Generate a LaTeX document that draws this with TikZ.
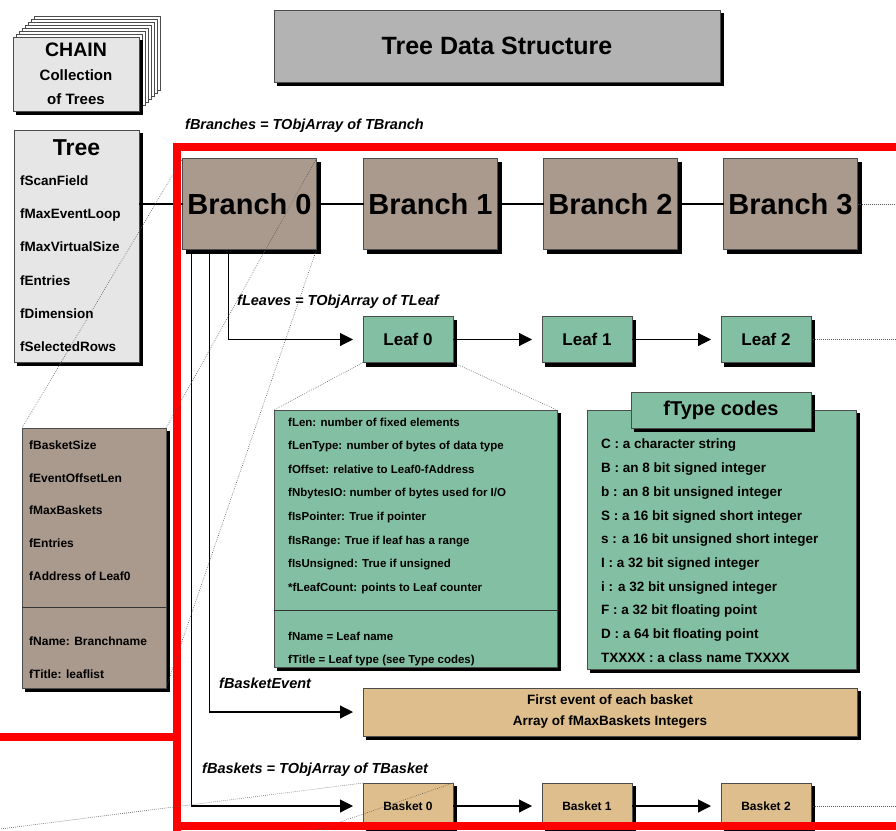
\documentclass[tikz,border=0pt]{standalone}
\usepackage{fontspec}
\setmainfont{Liberation Sans}
\usetikzlibrary{positioning,arrows.meta}

\definecolor{branchbrown}{RGB}{170,154,141}
\definecolor{leafgreen}{RGB}{131,192,163}
\definecolor{baskettan}{RGB}{222,190,140}
\definecolor{titlegray}{RGB}{179,179,179}
\definecolor{chaingray}{RGB}{230,230,230}

\tikzset{
	box/.style={draw=black!70, line width=0.7pt, inner sep=0pt, outer sep=0pt,
		preaction={draw=black, fill=black, transform canvas={xshift=3.5pt, yshift=-3.5pt}}},
	branchbox/.style={box, fill=branchbrown, minimum width=134pt, minimum height=91pt,
		font=\fontsize{29}{34}\selectfont\bfseries},
	leafbox/.style={box, fill=leafgreen, minimum width=90pt, minimum height=46pt,
		font=\fontsize{17}{20}\selectfont\bfseries},
	basketbox/.style={box, fill=baskettan, minimum width=90pt, minimum height=46pt,
		font=\fontsize{12}{14}\selectfont\bfseries},
	fieldtext/.style={inner sep=0pt, anchor=north west, align=left},
	arraylabel/.style={inner sep=0pt, anchor=base west,
		font=\fontsize{14.5}{17}\selectfont\bfseries\itshape},
	chainlayer/.style={draw=black!70, line width=0.7pt, fill=white},
	divider/.style={draw=black!80, line width=0.7pt},
	link/.style={line width=1.1pt},
	arrow/.style={link, -{Triangle[length=13pt,width=13pt]}, shorten >=10pt},
	zoomline/.style={draw=black!65, line width=0.6pt, dash pattern=on 0.7pt off 1.3pt},
	redframe/.style={draw=red, line width=8pt},
}

\begin{document}
\begin{tikzpicture}[x=1pt,y=-1pt]
	\useasboundingbox (0,0) rectangle (896,830);
	\clip (0,0) rectangle (896,830);
	\coordinate (rightedge) at (896,0);

	% chain of trees
	\foreach \i in {7,...,1}
		\draw[chainlayer] (13+3*\i,37-3*\i) rectangle (139+3*\i,111-3*\i);
	\node[box, fill=chaingray, minimum width=126pt, minimum height=74pt, align=center,
		font=\fontsize{15}{24}\selectfont\bfseries] (chain) at (76,74)
		{{\fontsize{19.5}{24}\selectfont CHAIN}\\Collection\\of Trees};

	\node[box, fill=titlegray, minimum width=446pt, minimum height=72pt,
		font=\fontsize{25}{30}\selectfont\bfseries] (title) at (497,46) {Tree Data Structure};

	% tree
	\node[box, fill=chaingray, minimum width=125pt, minimum height=232pt] (tree) at (76.5,246) {};
	\node[inner sep=0pt, font=\fontsize{23}{27}\selectfont\bfseries] (treetitle) at (76.5,148) {Tree};
	\node[fieldtext, font=\fontsize{13.5}{33.2}\selectfont\bfseries] (treefields) at (20,175.5)
		{fScanField\\fMaxEventLoop\\fMaxVirtualSize\\fEntries\\fDimension\\fSelectedRows};

	% branches
	\node[arraylabel] (branchesname) at (185,129) {fBranches = TObjArray of TBranch};
	\node[branchbox] (branch0) at (249.5,204) {Branch 0};
	\node[branchbox, right=47pt of branch0] (branch1) {Branch 1};
	\node[branchbox, right=46pt of branch1] (branch2) {Branch 2};
	\node[branchbox, right=46pt of branch2] (branch3) {Branch 3};

	\node[box, fill=branchbrown, minimum width=144pt, minimum height=260pt] (branchinfo) at (94,558) {};
	\draw[divider] (branchinfo.west |- 0,607) -- (branchinfo.east |- 0,607);
	\node[fieldtext, font=\fontsize{12}{32.75}\selectfont\bfseries] (branchfields) at (29,440.5)
		{fBasketSize\\fEventOffsetLen\\fMaxBaskets\\fEntries\\fAddress of Leaf0\\[32.25pt]fName: Branchname\\fTitle: leaflist};

	% leaves
	\node[arraylabel] (leavesname) at (237,305) {fLeaves = TObjArray of TLeaf};
	\node[leafbox] (leaf0) at (408,339.5) {Leaf 0};
	\node[leafbox, right=89pt of leaf0] (leaf1) {Leaf 1};
	\node[leafbox, right=89pt of leaf1] (leaf2) {Leaf 2};

	\node[box, fill=leafgreen, minimum width=283pt, minimum height=257pt] (leafinfo) at (415.5,538.5) {};
	\draw[divider] (leafinfo.west |- 0,610) -- (leafinfo.east |- 0,610);
	\node[fieldtext, font=\fontsize{11.5}{23.6}\selectfont\bfseries] (leaffields) at (288,417.5)
		{fLen: number of fixed elements\\fLenType: number of bytes of data type\\fOffset: relative to Leaf0-fAddress\\fNbytesIO: number of bytes used for I/O\\fIsPointer: True if pointer\\fIsRange: True if leaf has a range\\fIsUnsigned: True if unsigned\\*fLeafCount: points to Leaf counter\\[25.4pt]fName = Leaf name\\fTitle = Leaf type (see Type codes)};

	\node[box, fill=leafgreen, minimum width=269pt, minimum height=259pt] (typeinfo) at (721.5,539.5) {};
	\node[box, fill=leafgreen, minimum width=180pt, minimum height=36pt,
		font=\fontsize{20}{24}\selectfont\bfseries] (typetab) at (721,410) {fType codes};
	\node[fieldtext, font=\fontsize{13.5}{23.67}\selectfont\bfseries] (typelist) at (601,439)
		{C : a character string\\B : an 8 bit signed integer\\b : an 8 bit unsigned integer\\S : a 16 bit signed short integer\\s : a 16 bit unsigned short integer\\I : a 32 bit signed integer\\i : a 32 bit unsigned integer\\F : a 32 bit floating point\\D : a 64 bit floating point\\TXXXX : a class name TXXXX};

	% baskets
	\node[arraylabel] (basketeventname) at (219,688) {fBasketEvent};
	\node[box, fill=baskettan, minimum width=494pt, minimum height=48pt, align=center,
		font=\fontsize{13.5}{21}\selectfont\bfseries] (basketevent) at (610,712)
		{First event of each basket\\Array of fMaxBaskets Integers};

	\node[arraylabel] (basketsname) at (202,773) {fBaskets = TObjArray of TBasket};
	\node[basketbox] (basket0) at (408,806) {Basket 0};
	\node[basketbox, right=89pt of basket0] (basket1) {Basket 1};
	\node[basketbox, right=89pt of basket1] (basket2) {Basket 2};

	% connectors
	\draw[link] (tree.east |- branch0) -- (branch0);
	\draw[link] (branch0) -- (branch1);
	\draw[link] (branch1) -- (branch2);
	\draw[link] (branch2) -- (branch3);
	\draw[arrow] ([xshift=46pt]branch0.south west) |- (leaf0);
	\draw[arrow] ([xshift=27pt]branch0.south west) |- (basketevent);
	\draw[arrow] ([xshift=9pt]branch0.south west) |- (basket0);
	\draw[arrow] (leaf0) -- (leaf1);
	\draw[arrow] (leaf1) -- (leaf2);
	\draw[arrow] (basket0) -- (basket1);
	\draw[arrow] (basket1) -- (basket2);

	\draw[redframe] (0,737) -- (177,737);
	\draw[redframe] (177,840) -- (177,147) -- (900,147);
	\draw[redframe] (177,826) -- (900,826);

	% zoom lines
	\coordinate (basketzoomL) at (0,829);
	\coordinate (basketzoomR) at (317,830);
	\draw[zoomline] (branch0.north west) -- (branchinfo.north west);
	\draw[zoomline] (branch0.north east) -- (branchinfo.north east);
	\draw[zoomline] (branch0.south east) -- (branchinfo.south east);
	\draw[zoomline] (leaf0.south west) -- (leafinfo.north west);
	\draw[zoomline] (leaf0.south east) -- (leafinfo.north east);
	\draw[zoomline] (basket0.north west) -- (basketzoomL);
	\draw[zoomline] (basket0.north east) -- (basketzoomR);
	\draw[zoomline] (branch3.east) -- (branch3.east -| rightedge);
	\draw[zoomline] (leaf2.east) -- (leaf2.east -| rightedge);
	\draw[zoomline] (basket2.east) -- (basket2.east -| rightedge);
\end{tikzpicture}
\end{document}
